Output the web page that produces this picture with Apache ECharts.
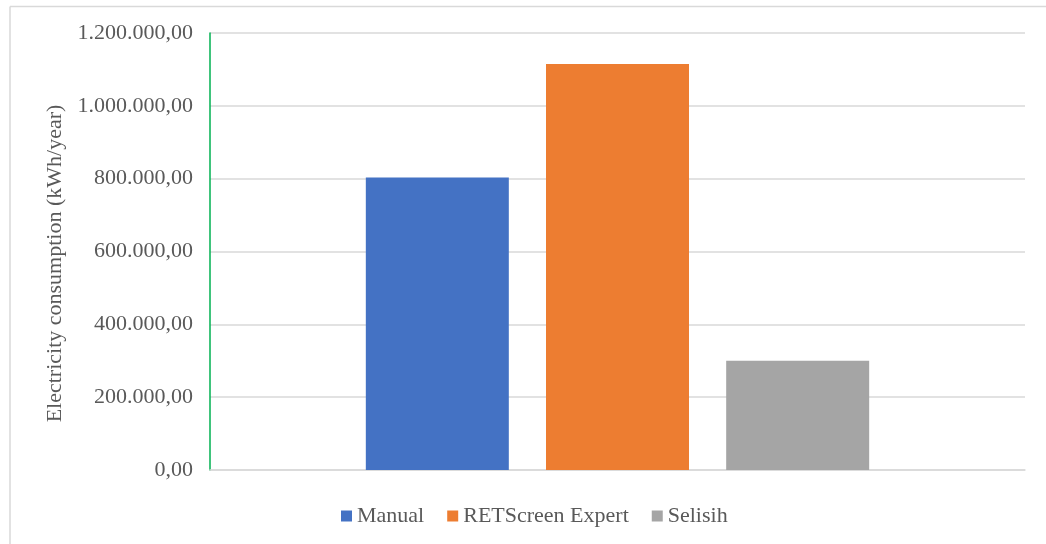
<!DOCTYPE html>
<html>
<head>
<meta charset="utf-8">
<style>html,body{margin:0;padding:0;background:#fff;}#chart{width:1046px;height:544px;}</style>
<script src="https://cdn.jsdelivr.net/npm/echarts@6/dist/echarts.min.js"></script>
</head>
<body>
<div id="chart"></div>
<script>
var categories = [''];
var seriesNames = ['Manual', 'RETScreen Expert', 'Selisih'];
var manualValues = [803000];
var retscreenValues = [1115000];
var selisihValues = [300000];
var yTicks = [0, 200000, 400000, 600000, 800000, 1000000, 1200000];
var colors = ['#4472C4', '#ED7D31', '#A5A5A5'];

function fmt(v) {
  var s = Math.round(v).toString().replace(/\B(?=(\d{3})+(?!\d))/g, '.');
  return s + ',00';
}

var chart = echarts.init(document.getElementById('chart'), null, {renderer: 'canvas'});
var font = 'Liberation Serif';
var allData = [manualValues, retscreenValues, selisihValues];
chart.setOption({
  animation: false,
  color: colors,
  textStyle: {fontFamily: font},
  graphic: [
    {type: 'line', shape: {x1: 10, y1: 6.5, x2: 1046, y2: 6.5}, style: {stroke: '#d9d9d9', lineWidth: 1.5}},
    {type: 'line', shape: {x1: 10, y1: 6.5, x2: 10, y2: 544}, style: {stroke: '#d9d9d9', lineWidth: 1.5}}
  ],
  grid: {left: 210, right: 21, top: 33, bottom: 74, containLabel: false},
  legend: {
    data: seriesNames,
    bottom: 12,
    left: 336,
    itemWidth: 11,
    itemHeight: 11,
    itemGap: 23,
    icon: 'rect',
    textStyle: {fontFamily: font, fontSize: 22, color: '#595959'}
  },
  xAxis: {
    type: 'category',
    data: categories,
    axisLine: {show: true, lineStyle: {color: '#d9d9d9', width: 1.5}},
    axisTick: {show: false},
    axisLabel: {show: false}
  },
  yAxis: {
    type: 'value',
    min: yTicks[0],
    max: yTicks[yTicks.length - 1],
    interval: yTicks[1] - yTicks[0],
    name: 'Electricity consumption (kWh/year)',
    nameLocation: 'middle',
    nameGap: 141,
    nameTextStyle: {fontFamily: font, fontSize: 22, color: '#595959', padding: [0, 24, 0, 0]},
    axisLine: {show: true, lineStyle: {color: '#00B050', width: 1.5}},
    axisTick: {show: false},
    axisLabel: {fontFamily: font, fontSize: 22, color: '#595959', margin: 17, formatter: fmt},
    splitLine: {lineStyle: {color: '#d9d9d9', width: 1.5}}
  },
  series: seriesNames.map(function (n, i) {
    return {
      name: n,
      type: 'bar',
      data: allData[i],
      barWidth: 143,
      barGap: '26%',
      itemStyle: {color: colors[i]}
    };
  })
});
</script>
</body>
</html>
